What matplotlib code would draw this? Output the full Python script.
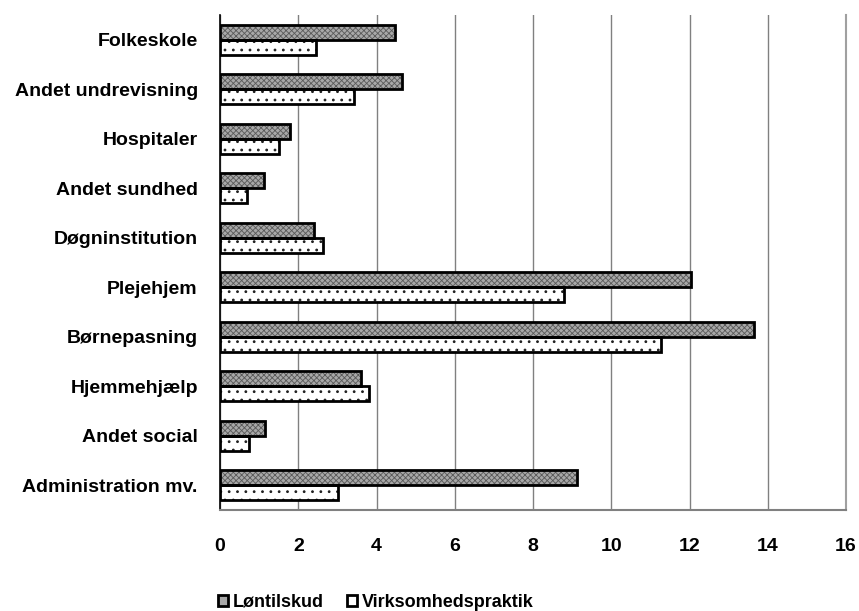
import numpy as np
from matplotlib import pyplot as plt
from matplotlib.patches import Patch

plt.rcParams['font.family'] = ['Liberation Sans', 'DejaVu Sans']
plt.rcParams['font.weight'] = 'bold'

# sectors, top to bottom as shown
categories = ['Folkeskole', 'Andet undrevisning', 'Hospitaler', 'Andet sundhed',
              'Døgninstitution', 'Plejehjem', 'Børnepasning', 'Hjemmehjælp',
              'Andet social', 'Administration mv.']
loentilskud = [4.48, 4.64, 1.80, 1.13, 2.40, 12.04, 13.66, 3.60, 1.15, 9.13]
virksomhedspraktik = [2.45, 3.43, 1.50, 0.70, 2.64, 8.80, 11.28, 3.80, 0.75, 3.02]
xticks = [0, 2, 4, 6, 8, 10, 12, 14, 16]

fig = plt.figure(figsize=(8.59, 6.11), dpi=100)
ax = fig.add_axes([220 / 859, 1 - 510 / 611, 626 / 859, 495 / 611])

y = np.arange(len(categories))
h = 0.30

# fill + hatch first (hatch takes the edge colour), then a black outline on top
plt.rcParams['hatch.linewidth'] = 0.6
ax.barh(y - h / 2, loentilskud, height=h, color='#a8a8a8', edgecolor='#5a5a5a',
        linewidth=0, hatch='xxxxxx', zorder=3)
plt.rcParams['hatch.linewidth'] = 0.8
ax.barh(y + h / 2, virksomhedspraktik, height=h, color='white', edgecolor='#202020',
        linewidth=0, hatch='..', zorder=3)
ax.barh(y - h / 2, loentilskud, height=h, fill=False, edgecolor='black',
        linewidth=2.0, zorder=4)
ax.barh(y + h / 2, virksomhedspraktik, height=h, fill=False, edgecolor='black',
        linewidth=2.0, zorder=4)

ax.set_ylim(len(categories) - 0.5, -0.5)
ax.set_xlim(0, 16)
ax.set_yticks(y)
ax.set_yticklabels(categories, fontsize=14, fontweight='bold')
ax.set_xticks(xticks)
ax.set_xticklabels([str(t) for t in xticks], fontsize=14, fontweight='bold')
ax.tick_params(axis='y', length=0, pad=16)
ax.tick_params(axis='x', length=0, pad=20)

ax.grid(axis='x', color='#808080', linewidth=1.0, zorder=0)
ax.spines['top'].set_visible(False)
ax.spines['left'].set_color('black')
ax.spines['left'].set_linewidth(1.2)
ax.spines['bottom'].set_color('#808080')
ax.spines['bottom'].set_linewidth(1.5)
ax.spines['right'].set_color('#a0a0a0')
ax.spines['right'].set_linewidth(1.5)

# legend handles: grey-filled and white boxes with heavy outline
handles = [Patch(facecolor='#a8a8a8', edgecolor='black', linewidth=2.0),
           Patch(facecolor='white', edgecolor='black', linewidth=2.0)]
fig.legend(handles, ['Løntilskud', 'Virksomhedspraktik'], loc='lower center',
           bbox_to_anchor=(376 / 859, -0.026), ncol=2, frameon=False,
           fontsize=13, handlelength=0.55, handleheight=0.55,
           handletextpad=0.25, columnspacing=1.3)

plt.savefig('out.png', dpi=100)
